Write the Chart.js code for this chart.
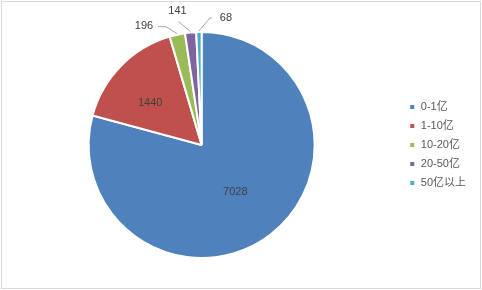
<!DOCTYPE html>
<html>
<head>
<meta charset="utf-8">
<script src="https://cdn.jsdelivr.net/npm/chart.js@4/dist/chart.umd.min.js"></script>
<style>
html,body{margin:0;padding:0;background:#fff;}
#wrap{width:482px;height:290px;position:relative;}
</style>
</head>
<body>
<div id="wrap"><canvas id="c" width="482" height="290"></canvas></div>
<script>
const categories = ["0-1亿", "1-10亿", "10-20亿", "20-50亿", "50亿以上"];
const values = [7028, 1440, 196, 141, 68];
const colors = ["#4F81BD", "#C0504D", "#9BBB59", "#8064A2", "#4BACC6"];

const FONT = 'Liberation Sans, "Noto Sans CJK SC", sans-serif';

const frame = {
  id: 'frame',
  beforeDraw(chart) {
    const ctx = chart.ctx;
    ctx.save();
    ctx.fillStyle = '#fff';
    ctx.fillRect(0, 0, chart.width, chart.height);
    ctx.strokeStyle = '#D9D9D9';
    ctx.lineWidth = 1;
    ctx.strokeRect(1.5, 1.5, chart.width - 3, chart.height - 3);
    ctx.restore();
  }
};

// label placement: inside slices use radius fraction (+ nudge); outside use pixel offset from edge
const labelCfg = [
  {inside: true, f: 0.52, dx: -2, dy: 0},
  {inside: true, f: 0.6, dx: -3, dy: 5},
  {inside: false, dx: -33, dy: -8, pts: [[-11, -7], [-19, -7]]},
  {inside: false, dx: -13, dy: -21, pts: [[-12, -10]]},
  {inside: false, dx: 27, dy: -13, pts: [[11, -13], [13, -13]]}
];

const labels = {
  id: 'labels',
  afterDatasetsDraw(chart) {
    const ctx = chart.ctx;
    const meta = chart.getDatasetMeta(0);
    ctx.save();
    ctx.font = '11px ' + FONT;
    ctx.textAlign = 'center';
    ctx.textBaseline = 'middle';
    meta.data.forEach((arc, i) => {
      const p = arc.getProps(['x','y','startAngle','endAngle','outerRadius'], true);
      const mid = (p.startAngle + p.endAngle) / 2;
      const cfg = labelCfg[i];
      const txt = String(chart.data.datasets[0].data[i]);
      if (cfg.inside) {
        const r = p.outerRadius * cfg.f;
        ctx.fillStyle = '#404040';
        ctx.fillText(txt, p.x + Math.cos(mid) * r + cfg.dx, p.y + Math.sin(mid) * r + cfg.dy);
      } else {
        const ex = p.x + Math.cos(mid) * (p.outerRadius + 1);
        const ey = p.y + Math.sin(mid) * (p.outerRadius + 1);
        const tx = ex + cfg.dx, ty = ey + cfg.dy;
        ctx.strokeStyle = '#A6A6A6';
        ctx.lineWidth = 1;
        ctx.beginPath();
        ctx.moveTo(ex, ey);
        cfg.pts.forEach(q => ctx.lineTo(ex + q[0], ey + q[1]));
        ctx.stroke();
        ctx.fillStyle = '#404040';
        ctx.fillText(txt, tx, ty);
      }
    });
    ctx.restore();
  }
};

new Chart(document.getElementById('c'), {
  type: 'pie',
  data: {
    labels: categories,
    datasets: [{
      data: values,
      backgroundColor: colors,
      borderColor: '#ffffff',
      borderWidth: 2
    }]
  },
  options: {
    responsive: false,
    animation: false,
    layout: { padding: { top: 31, bottom: 31, left: 2, right: 6 } },
    plugins: {
      tooltip: { enabled: false },
      legend: {
        position: 'right',
        labels: {
          boxWidth: 6,
          boxHeight: 6,
          padding: 8,
          color: '#595959',
          font: { size: 11, family: FONT }
        }
      }
    }
  },
  plugins: [frame, labels]
});
</script>
</body>
</html>
